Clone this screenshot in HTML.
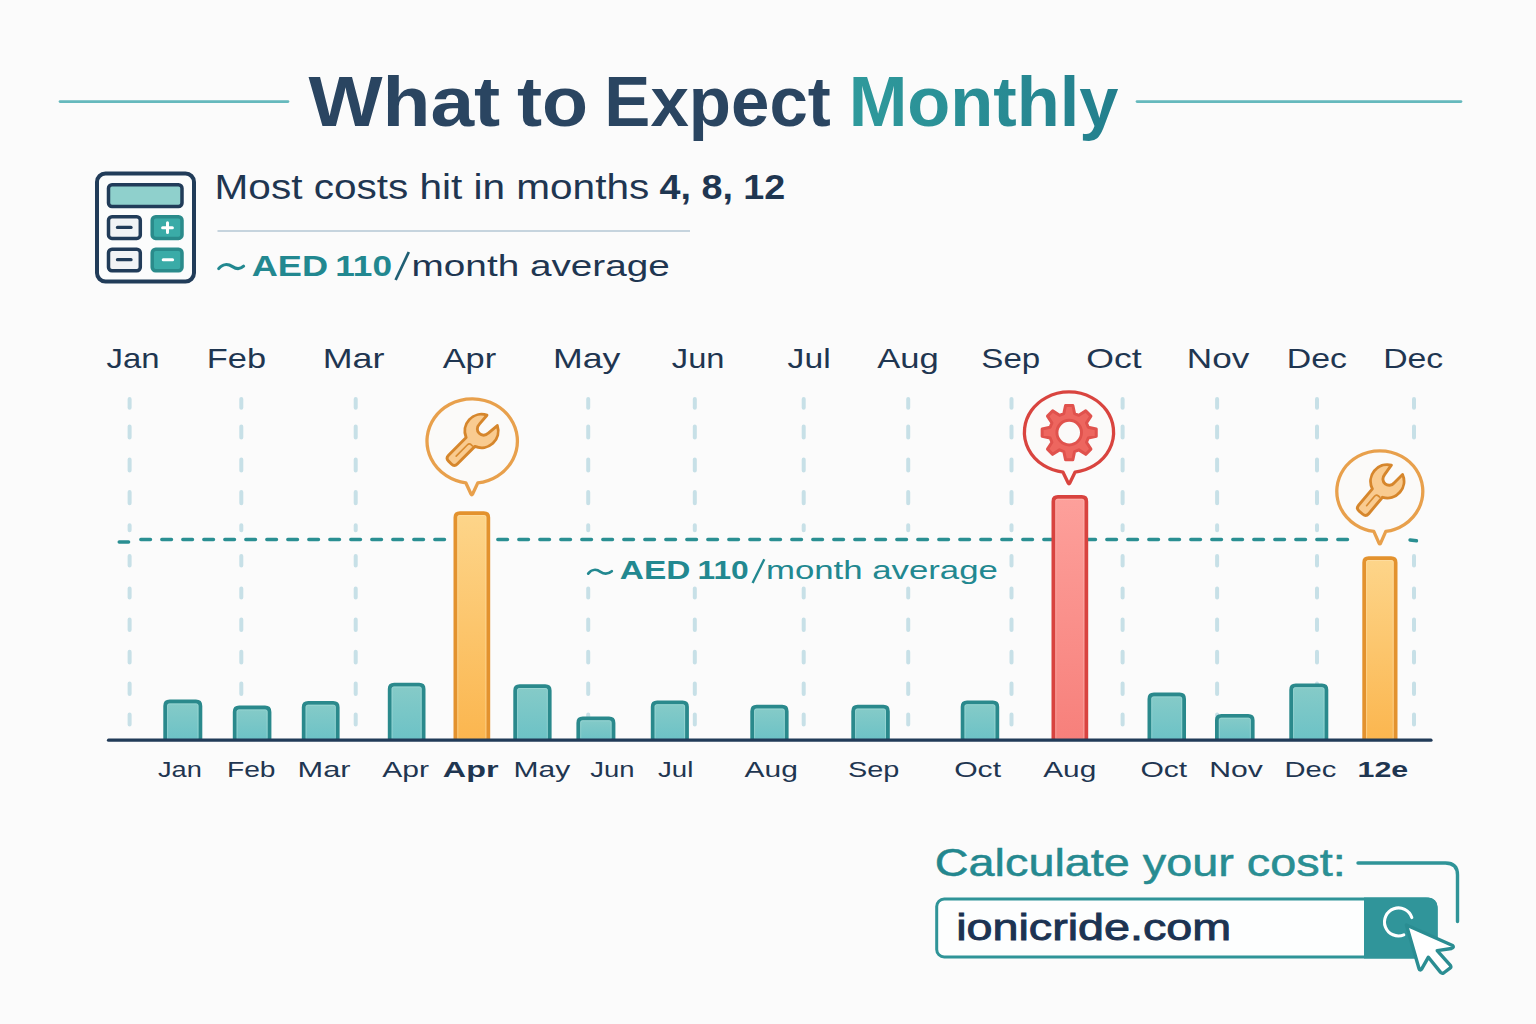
<!DOCTYPE html>
<html lang="en">
<head>
<meta charset="utf-8">
<title>What to Expect Monthly</title>
<style>
  html, body { margin:0; padding:0; background:#fbfbfb; }
  body { width:1536px; height:1024px; overflow:hidden; font-family:'Liberation Sans', sans-serif; }
  svg { display:block; }
  svg text { font-family:'Liberation Sans', sans-serif; }
</style>
</head>
<body>
<svg width="1536" height="1024" viewBox="0 0 1536 1024">
<defs>
  <linearGradient id="gTeal" x1="0" y1="0" x2="1" y2="0">
    <stop offset="0" stop-color="#2f9a9c"/><stop offset="1" stop-color="#237f8d"/>
  </linearGradient>
  <linearGradient id="gTeal2" x1="0" y1="0" x2="1" y2="0">
    <stop offset="0" stop-color="#23868e"/><stop offset="1" stop-color="#2a9195"/>
  </linearGradient>
  <linearGradient id="gBar" x1="0" y1="0" x2="0" y2="1">
    <stop offset="0" stop-color="#86cbc8"/><stop offset="1" stop-color="#6cc2c6"/>
  </linearGradient>
  <linearGradient id="gOr" x1="0" y1="0" x2="0" y2="1">
    <stop offset="0" stop-color="#fdd58a"/><stop offset="1" stop-color="#fbb64f"/>
  </linearGradient>
  <linearGradient id="gRed" x1="0" y1="0" x2="0" y2="1">
    <stop offset="0" stop-color="#fda09b"/><stop offset="1" stop-color="#f7807b"/>
  </linearGradient>
</defs>
<rect x="0" y="0" width="1536" height="1024" fill="#fbfbfb"/>
<line x1="60" y1="101.6" x2="288" y2="101.6" stroke="#66b9bd" stroke-width="2.7" stroke-linecap="round"/>
<line x1="1137" y1="101.6" x2="1461" y2="101.6" stroke="#66b9bd" stroke-width="2.7" stroke-linecap="round"/>
<text x="308.50" y="126.4" font-size="70" font-weight="bold" fill="#2a4561" textLength="191.72" lengthAdjust="spacingAndGlyphs" >What</text>
<text x="516.92" y="126.4" font-size="70" font-weight="bold" fill="#2a4561" textLength="71.14" lengthAdjust="spacingAndGlyphs" >to</text>
<text x="604.36" y="126.4" font-size="70" font-weight="bold" fill="#2a4561" textLength="226.44" lengthAdjust="spacingAndGlyphs" >Expect</text>
<text x="848.63" y="126.4" font-size="70" font-weight="bold" fill="url(#gTeal)" textLength="269.89" lengthAdjust="spacingAndGlyphs" >Monthly</text>
<g stroke-linejoin="round">
<rect x="97" y="173.5" width="97" height="108" rx="8.5" fill="#fbfcfc" stroke="#213c59" stroke-width="4"/>
<rect x="108.5" y="184.8" width="73.5" height="21.8" rx="3.5" fill="#8fd0cc" stroke="#213c59" stroke-width="3.5"/>
<rect x="108.5" y="216.8" width="31.8" height="21.6" rx="3.5" fill="#f1f3f5" stroke="#213c59" stroke-width="3.5"/>
<rect x="152.2" y="216.8" width="29.8" height="21.6" rx="3.5" fill="#3aaba7" stroke="#2a8b8b" stroke-width="3.5"/>
<rect x="108.5" y="249.2" width="31.8" height="21.6" rx="3.5" fill="#f1f3f5" stroke="#213c59" stroke-width="3.5"/>
<rect x="152.2" y="249.2" width="29.8" height="21.6" rx="3.5" fill="#3aaba7" stroke="#2a8b8b" stroke-width="3.5"/>
<line x1="117.5" y1="227.4" x2="131" y2="227.4" stroke="#213c59" stroke-width="3.3" stroke-linecap="round"/>
<line x1="117.5" y1="259.7" x2="131" y2="259.7" stroke="#213c59" stroke-width="3.3" stroke-linecap="round"/>
<path d="M162.6 227.7 H172.4 M167.5 222.8 V232.6" stroke="#fff" stroke-width="3" stroke-linecap="round" fill="none"/>
<line x1="163.2" y1="259.7" x2="172.6" y2="259.7" stroke="#fff" stroke-width="3" stroke-linecap="round"/>
</g>
<text x="214.61" y="198.5" font-size="34.6" font-weight="normal" fill="#1f3651" textLength="434.59" lengthAdjust="spacingAndGlyphs" >Most costs hit in months</text>
<text x="659.59" y="198.5" font-size="34.6" font-weight="bold" fill="#1f3651" textLength="125.71" lengthAdjust="spacingAndGlyphs" >4, 8, 12</text>
<line x1="217.5" y1="231" x2="690" y2="231" stroke="#c6d4de" stroke-width="1.8"/>
<path d="M218.7 268.6 C222.5 263.8 228 263.6 232.5 266.6 C236.5 269.3 240.5 269 243.6 266.2" fill="none" stroke="#228890" stroke-width="3.1" stroke-linecap="round"/>
<text x="251.73" y="275.8" font-size="30.4" font-weight="bold" fill="#228890" textLength="76.39" lengthAdjust="spacingAndGlyphs" >AED</text>
<text x="335.25" y="275.8" font-size="30.4" font-weight="bold" fill="#228890" textLength="56.72" lengthAdjust="spacingAndGlyphs" >110</text>
<line x1="395.6" y1="280" x2="408.8" y2="252" stroke="#1f5f74" stroke-width="2.7" stroke-linecap="butt"/>
<text x="411.63" y="275.8" font-size="30" font-weight="normal" fill="#1f3651" textLength="258.11" lengthAdjust="spacingAndGlyphs" >month average</text>
<text x="106.51" y="367.8" font-size="27.4" font-weight="normal" fill="#1f3651" textLength="53.01" lengthAdjust="spacingAndGlyphs" >Jan</text>
<text x="206.88" y="367.8" font-size="27.4" font-weight="normal" fill="#1f3651" textLength="59.19" lengthAdjust="spacingAndGlyphs" >Feb</text>
<text x="322.73" y="367.8" font-size="27.4" font-weight="normal" fill="#1f3651" textLength="61.67" lengthAdjust="spacingAndGlyphs" >Mar</text>
<text x="442.66" y="367.8" font-size="27.4" font-weight="normal" fill="#1f3651" textLength="53.48" lengthAdjust="spacingAndGlyphs" >Apr</text>
<text x="552.94" y="367.8" font-size="27.4" font-weight="normal" fill="#1f3651" textLength="67.41" lengthAdjust="spacingAndGlyphs" >May</text>
<text x="671.87" y="367.8" font-size="27.4" font-weight="normal" fill="#1f3651" textLength="52.69" lengthAdjust="spacingAndGlyphs" >Jun</text>
<text x="787.64" y="367.8" font-size="27.4" font-weight="normal" fill="#1f3651" textLength="43.03" lengthAdjust="spacingAndGlyphs" >Jul</text>
<text x="877.26" y="367.8" font-size="27.4" font-weight="normal" fill="#1f3651" textLength="61.45" lengthAdjust="spacingAndGlyphs" >Aug</text>
<text x="981.33" y="367.8" font-size="27.4" font-weight="normal" fill="#1f3651" textLength="58.89" lengthAdjust="spacingAndGlyphs" >Sep</text>
<text x="1086.33" y="367.8" font-size="27.4" font-weight="normal" fill="#1f3651" textLength="55.45" lengthAdjust="spacingAndGlyphs" >Oct</text>
<text x="1186.86" y="367.8" font-size="27.4" font-weight="normal" fill="#1f3651" textLength="62.45" lengthAdjust="spacingAndGlyphs" >Nov</text>
<text x="1286.81" y="367.8" font-size="27.4" font-weight="normal" fill="#1f3651" textLength="60.18" lengthAdjust="spacingAndGlyphs" >Dec</text>
<text x="1383.20" y="367.8" font-size="27.4" font-weight="normal" fill="#1f3651" textLength="60.03" lengthAdjust="spacingAndGlyphs" >Dec</text>
<path d="M129.6 399.0V407.8M129.6 426.4V437.6M129.6 459.4V470.5M129.6 492.0V503.2M129.6 525.3V530.2M129.6 556.0V565.5M129.6 588.5V597.5M129.6 619.4V630.0M129.6 651.8V662.5M129.6 683.4V694.0M129.6 714.5V724.5M241.3 399.0V407.8M241.3 426.4V437.6M241.3 459.4V470.5M241.3 492.0V503.2M241.3 525.3V530.2M241.3 556.0V565.5M241.3 588.5V597.5M241.3 619.4V630.0M241.3 651.8V662.5M241.3 683.4V694.0M241.3 714.5V724.5M355.7 399.0V407.8M355.7 426.4V437.6M355.7 459.4V470.5M355.7 492.0V503.2M355.7 525.3V530.2M355.7 556.0V565.5M355.7 588.5V597.5M355.7 619.4V630.0M355.7 651.8V662.5M355.7 683.4V694.0M355.7 714.5V724.5M588.2 399.0V407.8M588.2 426.4V437.6M588.2 459.4V470.5M588.2 492.0V503.2M588.2 525.3V530.2M588.2 556.0V565.5M588.2 588.5V597.5M588.2 619.4V630.0M588.2 651.8V662.5M588.2 683.4V694.0M588.2 714.5V724.5M694.8 399.0V407.8M694.8 426.4V437.6M694.8 459.4V470.5M694.8 492.0V503.2M694.8 525.3V530.2M694.8 556.0V565.5M694.8 588.5V597.5M694.8 619.4V630.0M694.8 651.8V662.5M694.8 683.4V694.0M694.8 714.5V724.5M803.7 399.0V407.8M803.7 426.4V437.6M803.7 459.4V470.5M803.7 492.0V503.2M803.7 525.3V530.2M803.7 556.0V565.5M803.7 588.5V597.5M803.7 619.4V630.0M803.7 651.8V662.5M803.7 683.4V694.0M803.7 714.5V724.5M908.2 399.0V407.8M908.2 426.4V437.6M908.2 459.4V470.5M908.2 492.0V503.2M908.2 525.3V530.2M908.2 556.0V565.5M908.2 588.5V597.5M908.2 619.4V630.0M908.2 651.8V662.5M908.2 683.4V694.0M908.2 714.5V724.5M1011.5 399.0V407.8M1011.5 426.4V437.6M1011.5 459.4V470.5M1011.5 492.0V503.2M1011.5 525.3V530.2M1011.5 556.0V565.5M1011.5 588.5V597.5M1011.5 619.4V630.0M1011.5 651.8V662.5M1011.5 683.4V694.0M1011.5 714.5V724.5M1122.6 399.0V407.8M1122.6 426.4V437.6M1122.6 459.4V470.5M1122.6 492.0V503.2M1122.6 525.3V530.2M1122.6 556.0V565.5M1122.6 588.5V597.5M1122.6 619.4V630.0M1122.6 651.8V662.5M1122.6 683.4V694.0M1122.6 714.5V724.5M1217.1 399.0V407.8M1217.1 426.4V437.6M1217.1 459.4V470.5M1217.1 492.0V503.2M1217.1 525.3V530.2M1217.1 556.0V565.5M1217.1 588.5V597.5M1217.1 619.4V630.0M1217.1 651.8V662.5M1217.1 683.4V694.0M1217.1 714.5V724.5M1317 399.0V407.8M1317 426.4V437.6M1317 459.4V470.5M1317 492.0V503.2M1317 525.3V530.2M1317 556.0V565.5M1317 588.5V597.5M1317 619.4V630.0M1317 651.8V662.5M1317 683.4V694.0M1317 714.5V724.5M1414 399.0V407.8M1414 426.4V437.6M1414 556.0V565.5M1414 588.5V597.5M1414 619.4V630.0M1414 651.8V662.5M1414 683.4V694.0M1414 714.5V724.5" fill="none" stroke="#c7e0e7" stroke-width="4" stroke-linecap="round"/>
<rect x="580" y="547" width="424" height="38" fill="#fbfbfb"/>
<line x1="119.2" y1="542" x2="128.6" y2="542" stroke="#2a8f92" stroke-width="3.4" stroke-linecap="round"/>
<line x1="140.8" y1="539.5" x2="1352" y2="539.5" stroke="#2a8f92" stroke-width="3.4" stroke-linecap="round" stroke-dasharray="9.7 11.3"/>
<line x1="1410" y1="540" x2="1416.5" y2="540.8" stroke="#2a8f92" stroke-width="3.4" stroke-linecap="round"/>
<path d="M588.2 573.6 C591.5 569.2 596.5 569 600.5 571.8 C604.2 574.4 608.2 574.2 611.8 571.2" fill="none" stroke="#228890" stroke-width="2.7" stroke-linecap="round"/>
<text x="619.86" y="578.8" font-size="25.6" font-weight="bold" fill="#228890" textLength="70.50" lengthAdjust="spacingAndGlyphs" >AED</text>
<text x="697.59" y="578.8" font-size="25.6" font-weight="bold" fill="#228890" textLength="51.19" lengthAdjust="spacingAndGlyphs" >110</text>
<line x1="752.6" y1="583" x2="764.3" y2="559.2" stroke="#228890" stroke-width="2.4"/>
<text x="765.98" y="578.8" font-size="25.4" font-weight="normal" fill="#228890" textLength="231.92" lengthAdjust="spacingAndGlyphs" >month average</text>
<path d="M165.2 740 V706.0 Q165.2 701.5 169.7 701.5 H195.9 Q200.4 701.5 200.4 706.0 V740" fill="url(#gBar)" stroke="#2a898c" stroke-width="3.8" stroke-linejoin="round" stroke-linecap="butt"/>
<path d="M167.6 738.5 V705.4 Q167.6 703.9 169.1 703.9 H196.5 Q198.0 703.9 198.0 705.4 V738.5" fill="none" stroke="#a9dedb" stroke-width="1" stroke-opacity="0.55"/>
<path d="M234.7 740 V712.0 Q234.7 707.5 239.2 707.5 H265.0 Q269.5 707.5 269.5 712.0 V740" fill="url(#gBar)" stroke="#2a898c" stroke-width="3.8" stroke-linejoin="round" stroke-linecap="butt"/>
<path d="M237.1 738.5 V711.4 Q237.1 709.9 238.6 709.9 H265.6 Q267.1 709.9 267.1 711.4 V738.5" fill="none" stroke="#a9dedb" stroke-width="1" stroke-opacity="0.55"/>
<path d="M303.7 740 V707.3 Q303.7 702.8 308.2 702.8 H333.2 Q337.7 702.8 337.7 707.3 V740" fill="url(#gBar)" stroke="#2a898c" stroke-width="3.8" stroke-linejoin="round" stroke-linecap="butt"/>
<path d="M306.1 738.5 V706.7 Q306.1 705.2 307.6 705.2 H333.8 Q335.3 705.2 335.3 706.7 V738.5" fill="none" stroke="#a9dedb" stroke-width="1" stroke-opacity="0.55"/>
<path d="M389.7 740 V689.1 Q389.7 684.6 394.2 684.6 H419.1 Q423.6 684.6 423.6 689.1 V740" fill="url(#gBar)" stroke="#2a898c" stroke-width="3.8" stroke-linejoin="round" stroke-linecap="butt"/>
<path d="M392.1 738.5 V688.5 Q392.1 687.0 393.6 687.0 H419.7 Q421.2 687.0 421.2 688.5 V738.5" fill="none" stroke="#a9dedb" stroke-width="1" stroke-opacity="0.55"/>
<path d="M515.2 740 V690.6 Q515.2 686.1 519.7 686.1 H545.2 Q549.7 686.1 549.7 690.6 V740" fill="url(#gBar)" stroke="#2a898c" stroke-width="3.8" stroke-linejoin="round" stroke-linecap="butt"/>
<path d="M517.6 738.5 V690.0 Q517.6 688.5 519.1 688.5 H545.8 Q547.3 688.5 547.3 690.0 V738.5" fill="none" stroke="#a9dedb" stroke-width="1" stroke-opacity="0.55"/>
<path d="M578.3 740 V722.9 Q578.3 718.4 582.8 718.4 H609.0 Q613.5 718.4 613.5 722.9 V740" fill="url(#gBar)" stroke="#2a898c" stroke-width="3.8" stroke-linejoin="round" stroke-linecap="butt"/>
<path d="M580.7 738.5 V722.3 Q580.7 720.8 582.2 720.8 H609.6 Q611.1 720.8 611.1 722.3 V738.5" fill="none" stroke="#a9dedb" stroke-width="1" stroke-opacity="0.55"/>
<path d="M652.7 740 V706.8 Q652.7 702.3 657.2 702.3 H682.5 Q687.0 702.3 687.0 706.8 V740" fill="url(#gBar)" stroke="#2a898c" stroke-width="3.8" stroke-linejoin="round" stroke-linecap="butt"/>
<path d="M655.1 738.5 V706.2 Q655.1 704.7 656.6 704.7 H683.1 Q684.6 704.7 684.6 706.2 V738.5" fill="none" stroke="#a9dedb" stroke-width="1" stroke-opacity="0.55"/>
<path d="M752.2 740 V711.2 Q752.2 706.7 756.7 706.7 H782.2 Q786.7 706.7 786.7 711.2 V740" fill="url(#gBar)" stroke="#2a898c" stroke-width="3.8" stroke-linejoin="round" stroke-linecap="butt"/>
<path d="M754.6 738.5 V710.6 Q754.6 709.1 756.1 709.1 H782.8 Q784.3 709.1 784.3 710.6 V738.5" fill="none" stroke="#a9dedb" stroke-width="1" stroke-opacity="0.55"/>
<path d="M853.2 740 V711.2 Q853.2 706.7 857.7 706.7 H883.4 Q887.9 706.7 887.9 711.2 V740" fill="url(#gBar)" stroke="#2a898c" stroke-width="3.8" stroke-linejoin="round" stroke-linecap="butt"/>
<path d="M855.6 738.5 V710.6 Q855.6 709.1 857.1 709.1 H884.0 Q885.5 709.1 885.5 710.6 V738.5" fill="none" stroke="#a9dedb" stroke-width="1" stroke-opacity="0.55"/>
<path d="M962.6 740 V706.8 Q962.6 702.3 967.1 702.3 H992.8 Q997.3 702.3 997.3 706.8 V740" fill="url(#gBar)" stroke="#2a898c" stroke-width="3.8" stroke-linejoin="round" stroke-linecap="butt"/>
<path d="M965.0 738.5 V706.2 Q965.0 704.7 966.5 704.7 H993.4 Q994.9 704.7 994.9 706.2 V738.5" fill="none" stroke="#a9dedb" stroke-width="1" stroke-opacity="0.55"/>
<path d="M1149.4 740 V699.0 Q1149.4 694.5 1153.9 694.5 H1179.6 Q1184.1 694.5 1184.1 699.0 V740" fill="url(#gBar)" stroke="#2a898c" stroke-width="3.8" stroke-linejoin="round" stroke-linecap="butt"/>
<path d="M1151.8 738.5 V698.4 Q1151.8 696.9 1153.3 696.9 H1180.2 Q1181.7 696.9 1181.7 698.4 V738.5" fill="none" stroke="#a9dedb" stroke-width="1" stroke-opacity="0.55"/>
<path d="M1216.9 740 V720.3 Q1216.9 715.8 1221.4 715.8 H1248.2 Q1252.7 715.8 1252.7 720.3 V740" fill="url(#gBar)" stroke="#2a898c" stroke-width="3.8" stroke-linejoin="round" stroke-linecap="butt"/>
<path d="M1219.3 738.5 V719.7 Q1219.3 718.2 1220.8 718.2 H1248.8 Q1250.3 718.2 1250.3 719.7 V738.5" fill="none" stroke="#a9dedb" stroke-width="1" stroke-opacity="0.55"/>
<path d="M1291.2 740 V689.8 Q1291.2 685.3 1295.7 685.3 H1321.9 Q1326.4 685.3 1326.4 689.8 V740" fill="url(#gBar)" stroke="#2a898c" stroke-width="3.8" stroke-linejoin="round" stroke-linecap="butt"/>
<path d="M1293.6 738.5 V689.2 Q1293.6 687.7 1295.1 687.7 H1322.5 Q1324.0 687.7 1324.0 689.2 V738.5" fill="none" stroke="#a9dedb" stroke-width="1" stroke-opacity="0.55"/>
<path d="M455.4 740 V517.6 Q455.4 513.1 459.9 513.1 H483.8 Q488.3 513.1 488.3 517.6 V740" fill="url(#gOr)" stroke="#e3922e" stroke-width="3.8" stroke-linejoin="round" stroke-linecap="butt"/>
<path d="M457.8 738.5 V517.0 Q457.8 515.5 459.3 515.5 H484.4 Q485.9 515.5 485.9 517.0 V738.5" fill="none" stroke="#fee2ae" stroke-width="1" stroke-opacity="0.55"/>
<path d="M1364.2 740 V562.6 Q1364.2 558.1 1368.7 558.1 H1391.1 Q1395.6 558.1 1395.6 562.6 V740" fill="url(#gOr)" stroke="#e3922e" stroke-width="3.8" stroke-linejoin="round" stroke-linecap="butt"/>
<path d="M1366.6 738.5 V562.0 Q1366.6 560.5 1368.1 560.5 H1391.7 Q1393.2 560.5 1393.2 562.0 V738.5" fill="none" stroke="#fee2ae" stroke-width="1" stroke-opacity="0.55"/>
<path d="M1053.4 740 V501.4 Q1053.4 496.9 1057.9 496.9 H1081.8 Q1086.3 496.9 1086.3 501.4 V740" fill="url(#gRed)" stroke="#d8433f" stroke-width="3.8" stroke-linejoin="round" stroke-linecap="butt"/>
<path d="M1055.8 738.5 V500.8 Q1055.8 499.3 1057.3 499.3 H1082.4 Q1083.9 499.3 1083.9 500.8 V738.5" fill="none" stroke="#fec0bc" stroke-width="1" stroke-opacity="0.55"/>
<line x1="108.5" y1="740.2" x2="1431" y2="740.2" stroke="#213b58" stroke-width="3.2" stroke-linecap="round"/>
<text x="158.01" y="776.5" font-size="22.6" font-weight="normal" fill="#1f3651" textLength="43.89" lengthAdjust="spacingAndGlyphs" >Jan</text>
<text x="226.96" y="776.5" font-size="22.6" font-weight="normal" fill="#1f3651" textLength="48.59" lengthAdjust="spacingAndGlyphs" >Feb</text>
<text x="297.59" y="776.5" font-size="22.6" font-weight="normal" fill="#1f3651" textLength="52.99" lengthAdjust="spacingAndGlyphs" >Mar</text>
<text x="382.18" y="776.5" font-size="22.6" font-weight="normal" fill="#1f3651" textLength="46.83" lengthAdjust="spacingAndGlyphs" >Apr</text>
<text x="442.86" y="776.5" font-size="22.6" font-weight="bold" fill="#1f3651" textLength="55.69" lengthAdjust="spacingAndGlyphs" >Apr</text>
<text x="513.53" y="776.5" font-size="22.6" font-weight="normal" fill="#1f3651" textLength="56.67" lengthAdjust="spacingAndGlyphs" >May</text>
<text x="590.19" y="776.5" font-size="22.6" font-weight="normal" fill="#1f3651" textLength="44.24" lengthAdjust="spacingAndGlyphs" >Jun</text>
<text x="657.99" y="776.5" font-size="22.6" font-weight="normal" fill="#1f3651" textLength="35.35" lengthAdjust="spacingAndGlyphs" >Jul</text>
<text x="744.60" y="776.5" font-size="22.6" font-weight="normal" fill="#1f3651" textLength="53.26" lengthAdjust="spacingAndGlyphs" >Aug</text>
<text x="847.92" y="776.5" font-size="22.6" font-weight="normal" fill="#1f3651" textLength="51.39" lengthAdjust="spacingAndGlyphs" >Sep</text>
<text x="954.15" y="776.5" font-size="22.6" font-weight="normal" fill="#1f3651" textLength="46.92" lengthAdjust="spacingAndGlyphs" >Oct</text>
<text x="1043.21" y="776.5" font-size="22.6" font-weight="normal" fill="#1f3651" textLength="53.00" lengthAdjust="spacingAndGlyphs" >Aug</text>
<text x="1140.43" y="776.5" font-size="22.6" font-weight="normal" fill="#1f3651" textLength="46.77" lengthAdjust="spacingAndGlyphs" >Oct</text>
<text x="1209.28" y="776.5" font-size="22.6" font-weight="normal" fill="#1f3651" textLength="53.63" lengthAdjust="spacingAndGlyphs" >Nov</text>
<text x="1284.42" y="776.5" font-size="22.6" font-weight="normal" fill="#1f3651" textLength="51.91" lengthAdjust="spacingAndGlyphs" >Dec</text>
<text x="1357.60" y="776.5" font-size="22.6" font-weight="bold" fill="#1f3651" textLength="50.65" lengthAdjust="spacingAndGlyphs" >12e</text>
<path d="M465.8 482.8 A45.2 42.2 0 1 1 477.8 482.9 L472.6 494.0 Q471.8 495.5 471.0 494.0 Z" fill="#fbfaf9" stroke="#e8a04c" stroke-width="3.3" stroke-linejoin="round"/>
<g transform="translate(481.5,431.0) rotate(45)"><path d="M-7.30 -15.02 A16.7 16.7 0 0 0 -6.20 15.51 L-6.20 40.40 Q-6.20 44.60 -2.00 44.60 L2.00 44.60 Q6.20 44.60 6.20 40.40 L6.20 15.51 A16.7 16.7 0 0 0 7.30 -15.02 L6.30 -3.00 A6.3 6.3 0 0 1 -6.30 -3.00 Z" fill="#f9cb90" stroke="#d6862c" stroke-width="2.9" stroke-linejoin="round"/><path d="M-0.2 35.6 V20 Q-0.2 17 2.6 17 H4.2" fill="none" stroke="#d98b30" stroke-width="1.7" stroke-linecap="round"/></g>
<path d="M1063.0 472.2 A44.6 40.3 0 1 1 1075.0 472.2 L1069.8 483.0 Q1069.0 484.5 1068.2 483.0 Z" fill="#fbfaf9" stroke="#d9443f" stroke-width="3.3" stroke-linejoin="round"/>
<path d="M1063.82 413.54 L1065.53 405.55 L1072.87 405.55 L1074.58 413.54 L1078.87 415.32 L1085.73 410.87 L1090.93 416.07 L1086.48 422.93 L1088.26 427.22 L1096.25 428.93 L1096.25 436.27 L1088.26 437.98 L1086.48 442.27 L1090.93 449.13 L1085.73 454.33 L1078.87 449.88 L1074.58 451.66 L1072.87 459.65 L1065.53 459.65 L1063.82 451.66 L1059.53 449.88 L1052.67 454.33 L1047.47 449.13 L1051.92 442.27 L1050.14 437.98 L1042.15 436.27 L1042.15 428.93 L1050.14 427.22 L1051.92 422.93 L1047.47 416.07 L1052.67 410.87 L1059.53 415.32 Z M1081.50 432.60 A12.3 12.3 0 1 0 1056.90 432.60 A12.3 12.3 0 1 0 1081.50 432.60 Z" fill="#ed665f" stroke="#e0524d" stroke-width="3" stroke-linejoin="round" fill-rule="evenodd"/>
<path d="M1373.8 531.4 A43 40.5 0 1 1 1385.8 531.4 L1380.6 543.1 Q1379.8 544.6 1379.0 543.1 Z" fill="#fbfaf9" stroke="#e8a04c" stroke-width="3.3" stroke-linejoin="round"/>
<g transform="translate(1387.3,481.3) rotate(40)"><path d="M-7.30 -15.02 A16.7 16.7 0 0 0 -6.60 15.34 L-6.60 36.80 Q-6.60 41.00 -2.40 41.00 L2.40 41.00 Q6.60 41.00 6.60 36.80 L6.60 15.34 A16.7 16.7 0 0 0 7.30 -15.02 L6.30 -3.00 A6.3 6.3 0 0 1 -6.30 -3.00 Z" fill="#f9cb90" stroke="#d6862c" stroke-width="2.9" stroke-linejoin="round"/><path d="M-0.2 32.0 V20 Q-0.2 17 2.6 17 H4.2" fill="none" stroke="#d98b30" stroke-width="1.7" stroke-linecap="round"/></g>
<text x="934.79" y="875.6" font-size="39" font-weight="normal" fill="url(#gTeal2)" textLength="410.92" lengthAdjust="spacingAndGlyphs" stroke="#27898f" stroke-width="0.5">Calculate your cost:</text>
<path d="M1358 863 H1445.5 Q1457.5 863 1457.5 875 V921.5" fill="none" stroke="#2f9498" stroke-width="3.4" stroke-linecap="round"/>
<rect x="936.7" y="899.05" width="499.3" height="57.9" rx="7.5" fill="#fdfefe" stroke="#2f9498" stroke-width="3"/>
<path d="M1364 897.4 H1425.7 Q1437.7 897.4 1437.7 909.4 V946.4 Q1437.7 958.4 1425.7 958.4 H1364 Z" fill="#30959a"/>
<text x="956.16" y="940.3" font-size="37" font-weight="normal" fill="#1c3352" textLength="275.07" lengthAdjust="spacingAndGlyphs" stroke="#1c3352" stroke-width="0.9">ionicride.com</text>
<path d="M1411.8 917.6 A14 14 0 1 0 1403.8 934.9" fill="none" stroke="#fff" stroke-width="3.1" stroke-linecap="round"/>
<path d="M1406.4 925 L1452.6 945.5 Q1454.5 947.5 1451.5 948.5 L1437.2 950.6 L1450.4 965.3 Q1451.5 967 1450 968.2 L1443.6 973 Q1442 973.8 1440.6 972.4 L1428.4 957.2 L1421.6 969.2 Q1420 971 1419 968.5 Z" fill="#fff" stroke="#2a8d92" stroke-width="3.4" stroke-linejoin="round"/>
</svg>
</body>
</html>
